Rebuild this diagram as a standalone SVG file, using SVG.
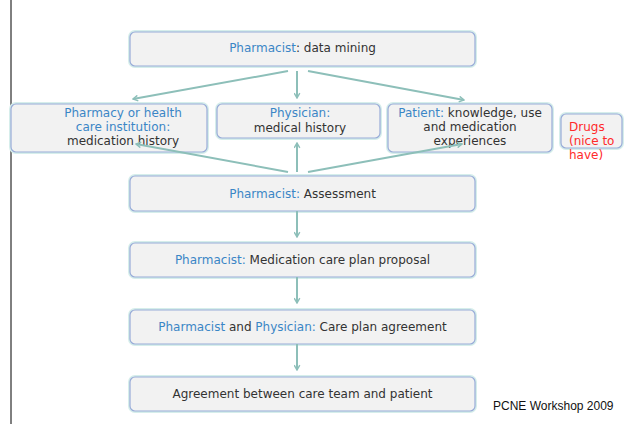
<svg xmlns="http://www.w3.org/2000/svg" width="632" height="424" viewBox="0 0 632 424">
<defs>
<style>
.glow{fill:none;stroke:#d6eeeb;stroke-width:4}
.box{fill:#f2f2f2;stroke:#98abd8;stroke-width:1.2}
text{font-family:"DejaVu Sans",Verdana,sans-serif;font-size:12px;fill:#333333}
.c{text-anchor:middle}
.b{fill:#3b86c6}
.r{fill:#ff2a2a}
.con{stroke:#8dbfb9;stroke-width:2;fill:none}
.foot{font-family:"Liberation Sans",Arial,sans-serif;font-size:12px;fill:#111111}
</style>
<marker id="ah" viewBox="0 0 10 10" refX="8" refY="5" markerWidth="7" markerHeight="7" orient="auto" markerUnits="userSpaceOnUse">
<path d="M1,1 L8,5 L1,9" fill="none" stroke="#8dbfb9" stroke-width="2"/>
</marker>
</defs>
<rect width="632" height="424" fill="#ffffff"/>
<line x1="11" y1="0" x2="11" y2="424" stroke="#000000" stroke-width="1"/>

<g id="n-datamining">
<rect class="glow" x="130" y="32" width="345" height="34" rx="5"/>
<rect class="box" x="130" y="32" width="345" height="34" rx="5"/>
<text class="c" x="302.5" y="52"><tspan class="b">Pharmacist</tspan>: data mining</text>
</g>

<g id="n-pharmacy">
<rect class="glow" x="11" y="104" width="196" height="48" rx="5"/>
<rect class="box" x="11" y="104" width="196" height="48" rx="5"/>
<text class="c b" x="123" y="117">Pharmacy or health</text>
<text class="c b" x="123" y="131">care institution:</text>
<text class="c" x="123" y="145">medication history</text>
</g>

<g id="n-physician">
<rect class="glow" x="217" y="104" width="163" height="34" rx="5"/>
<rect class="box" x="217" y="104" width="163" height="34" rx="5"/>
<text class="c b" x="300" y="117">Physician:</text>
<text class="c" x="300" y="132">medical history</text>
</g>

<g id="n-patient">
<rect class="glow" x="388" y="104" width="164" height="48" rx="5"/>
<rect class="box" x="388" y="104" width="164" height="48" rx="5"/>
<text class="c" x="470" y="117"><tspan class="b">Patient:</tspan> knowledge, use</text>
<text class="c" x="470" y="131">and medication</text>
<text class="c" x="470" y="145">experiences</text>
</g>

<g id="n-drugs">
<rect class="glow" x="561" y="114" width="61" height="34" rx="5"/>
<rect class="box" x="561" y="114" width="61" height="34" rx="5"/>
<text class="r" x="569" y="131">Drugs</text>
<text class="r" x="569" y="145">(nice to</text>
<text class="r" x="569" y="159">have)</text>
</g>

<g id="n-assessment">
<rect class="glow" x="130" y="176" width="345" height="35" rx="5"/>
<rect class="box" x="130" y="176" width="345" height="35" rx="5"/>
<text class="c" x="302.5" y="198"><tspan class="b">Pharmacist:</tspan> Assessment</text>
</g>

<g id="n-proposal">
<rect class="glow" x="130" y="243" width="345" height="34" rx="5"/>
<rect class="box" x="130" y="243" width="345" height="34" rx="5"/>
<text class="c" x="302.5" y="264"><tspan class="b">Pharmacist:</tspan> Medication care plan proposal</text>
</g>

<g id="n-careplan">
<rect class="glow" x="130" y="310" width="345" height="34" rx="5"/>
<rect class="box" x="130" y="310" width="345" height="34" rx="5"/>
<text class="c" x="302.5" y="331"><tspan class="b">Pharmacist</tspan> and <tspan class="b">Physician:</tspan> Care plan agreement</text>
</g>

<g id="n-agreement">
<rect class="glow" x="130" y="377" width="345" height="34" rx="5"/>
<rect class="box" x="130" y="377" width="345" height="34" rx="5"/>
<text class="c" x="302.5" y="398">Agreement between care team and patient</text>
</g>

<g id="connectors">
<line class="con" x1="288" y1="71" x2="133" y2="99" marker-end="url(#ah)"/>
<line class="con" x1="297" y1="71" x2="297" y2="98" marker-end="url(#ah)"/>
<line class="con" x1="308" y1="71" x2="464" y2="100" marker-end="url(#ah)"/>
<line class="con" x1="288" y1="172" x2="136" y2="144" marker-end="url(#ah)"/>
<line class="con" x1="297" y1="172" x2="297" y2="143" marker-end="url(#ah)"/>
<line class="con" x1="308" y1="172" x2="462" y2="144" marker-end="url(#ah)"/>
<line class="con" x1="297" y1="211" x2="297" y2="237" marker-end="url(#ah)"/>
<line class="con" x1="297" y1="277" x2="297" y2="303" marker-end="url(#ah)"/>
<line class="con" x1="297" y1="344" x2="297" y2="370" marker-end="url(#ah)"/>
</g>

<text class="foot" x="493" y="410">PCNE Workshop 2009</text>
</svg>
